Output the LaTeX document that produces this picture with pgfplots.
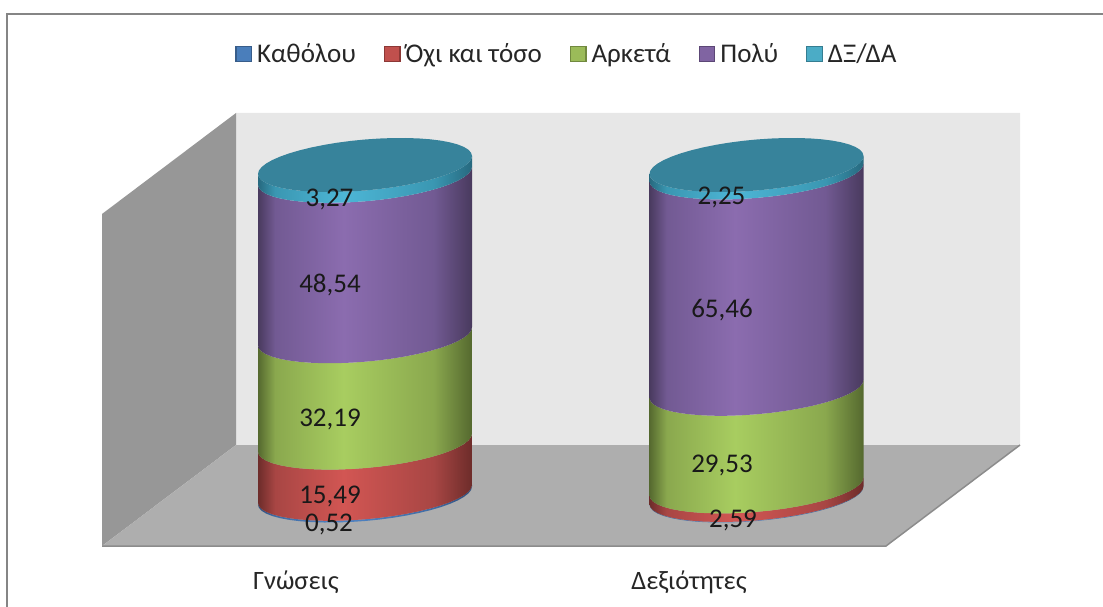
\documentclass[border=0pt]{standalone}
\usepackage{fontspec}
\setmainfont{Carlito}
\usepackage{pgfplots}
\usepackage{pgfplotstable}
\pgfplotsset{compat=1.18}
\tikzset{lab/.style={font=\fontsize{27}{29}\selectfont,text=black!90,inner sep=0pt,anchor=center}}
\definecolor{wallback}{HTML}{E7E7E7}
\definecolor{wallside}{HTML}{979797}
\definecolor{floorc}{HTML}{AEAEAE}
\definecolor{edgec}{HTML}{8C8C8C}
\definecolor{framec}{HTML}{858585}
\definecolor{lidc}{HTML}{37839B}
\definecolor{bluec}{HTML}{4A7EBB}
\definecolor{bluee}{HTML}{385D8A}
\definecolor{redc}{HTML}{C0504D}
\definecolor{rede}{HTML}{8C3836}
\definecolor{greenc}{HTML}{9BBB59}
\definecolor{greene}{HTML}{71893F}
\definecolor{purplec}{HTML}{8064A2}
\definecolor{purplee}{HTML}{5C4776}
\definecolor{tealc}{HTML}{4BACC6}
\definecolor{teale}{HTML}{357D91}
\newcommand\cylshade[4]{%
  \pgfdeclarehorizontalshading{#1}{100bp}{%
    color(0bp)=(#2);color(25bp)=(#2);color(29bp)=(#3);color(45bp)=(#4);color(66bp)=(#3);color(75bp)=(#2);color(100bp)=(#2)}}
\definecolor{a1}{HTML}{2F4F7D}\definecolor{a2}{HTML}{3F6CA5}\definecolor{a3}{HTML}{4F84C4}
\definecolor{b1}{HTML}{6D2C2A}\definecolor{b2}{HTML}{A84644}\definecolor{b3}{HTML}{D25653}
\definecolor{c1}{HTML}{55692F}\definecolor{c2}{HTML}{8AA84E}\definecolor{c3}{HTML}{A8CD60}
\definecolor{d1}{HTML}{493A5E}\definecolor{d2}{HTML}{725A93}\definecolor{d3}{HTML}{8B6CAF}
\definecolor{e1}{HTML}{27697F}\definecolor{e2}{HTML}{3A97B2}\definecolor{e3}{HTML}{4DB6D6}
\cylshade{cylblue}{a1}{a2}{a3}
\cylshade{cylred}{b1}{b2}{b3}
\cylshade{cylgreen}{c1}{c2}{c3}
\cylshade{cylpurple}{d1}{d2}{d3}
\cylshade{cylteal}{e1}{e2}{e3}
\pgfplotstableread{
dx dy w
107 -9 1
106.1 -5.59 1
103.4 -2.09 1
98.9 1.44 1
92.7 4.96 1
84.9 8.38 1
75.7 11.67 1
65.1 14.75 1
53.5 17.58 1
40.9 20.12 1
27.7 22.30 1
14.0 24.11 1
0 25.5 1
-14.0 26.45 1
-27.7 26.96 1
-40.9 27.00 1
-53.5 26.58 1
-65.1 25.71 1
-75.7 24.39 1
-84.9 22.66 1
-92.7 20.54 1
-98.9 18.08 1
-103.4 15.29 1
-106.1 12.25 1
-107 9 1
-107 9 0
-106.1 12.25 0
-103.4 15.29 0
-98.9 18.08 0
-92.7 20.54 0
-84.9 22.66 0
-75.7 24.39 0
-65.1 25.71 0
-53.5 26.58 0
-40.9 27.00 0
-27.7 26.96 0
-14.0 26.45 0
0 25.5 0
14.0 24.11 0
27.7 22.30 0
40.9 20.12 0
53.5 17.58 0
65.1 14.75 0
75.7 11.67 0
84.9 8.38 0
92.7 4.96 0
98.9 1.44 0
103.4 -2.09 0
106.1 -5.59 0
107 -9 0
}\segtab
\pgfplotstableread{
dx dy
107 -9
106.1 -5.59
103.4 -2.09
98.9 1.44
92.7 4.96
84.9 8.38
75.7 11.67
65.1 14.75
53.5 17.58
40.9 20.12
27.7 22.30
14.0 24.11
0 25.5
-14.0 26.45
-27.7 26.96
-40.9 27.00
-53.5 26.58
-65.1 25.71
-75.7 24.39
-84.9 22.66
-92.7 20.54
-98.9 18.08
-103.4 15.29
-106.1 12.25
-107 9
-106.1 5.59
-103.4 2.09
-98.9 -1.44
-92.7 -4.96
-84.9 -8.38
-75.7 -11.67
-65.1 -14.75
-53.5 -17.58
-40.9 -20.12
-27.7 -22.30
-14.0 -24.11
0 -25.5
14.0 -26.45
27.7 -26.96
40.9 -27.00
53.5 -26.58
65.1 -25.71
75.7 -24.39
84.9 -22.66
92.7 -20.54
98.9 -18.08
103.4 -15.29
106.1 -12.25
}\lidtab
\newcommand\seg[4]{%
  \addplot[draw=none,no markers,shade,shading=#4,forget plot] table[
    x expr=#1+\thisrow{dx},
    y expr=495.5-3.305*(\thisrow{w}*#2+(1-\thisrow{w})*#3)+\thisrow{dy}] {\segtab};}
\newcommand\lid[1]{%
  \addplot[draw=none,no markers,fill=lidc,forget plot] table[
    x expr=#1+\thisrow{dx},
    y expr=165+\thisrow{dy}] {\lidtab};}
\newcommand\legsq[2]{\addlegendimage{legend image code/.code={\draw[fill=#1,draw=#2,line width=1.2pt] (0pt,-7.5pt) rectangle (15.5pt,7.5pt);}}}
\begin{document}
\begin{tikzpicture}
\begin{axis}[
  scale only axis,
  width=1103pt,height=607pt,
  xmin=0,xmax=1103,ymin=0,ymax=607,
  y dir=reverse,
  axis line style={draw=none},
  tick style={draw=none},
  ytick=\empty,
  xtick={296,689},
  xticklabels={Γνώσεις,Δεξιότητες},
  xticklabel style={font=\fontsize{26.5}{28}\selectfont,text=black!85,anchor=center},
  xticklabel shift=-25pt,
  /pgf/number format/assume math mode=true,
  legend columns=-1,
  legend style={at={(axis cs:567,54)},anchor=center,draw=none,fill=none,
    font=\fontsize{27}{29}\selectfont,text=black!85,
    /tikz/every even column/.append style={column sep=26pt},
    inner sep=0pt},
]
% frame
\addplot[no markers,draw=framec,line width=2.5pt,forget plot] coordinates {(7,607) (7,14) (1103,14)};
% walls
\addplot[draw=none,fill=wallback,forget plot] coordinates {(236,113) (1020,113) (1020,445) (236,445) (236,113)};
\addplot[draw=none,fill=wallside,forget plot] coordinates {(102,214) (236,113) (236,445) (102,546) (102,214)};
\addplot[draw=none,fill=floorc,forget plot] coordinates {(102,546) (236,445) (1020,445) (886,546) (102,546)};
\addplot[no markers,draw=edgec,line width=1.5pt,forget plot] coordinates {(102,546) (886,546) (1020,445)};
% Γνώσεις
\seg{365}{0}{0.52}{cylblue}
\seg{365}{0.52}{16.01}{cylred}
\seg{365}{16.01}{48.20}{cylgreen}
\seg{365}{48.20}{96.74}{cylpurple}
\seg{365}{96.74}{100}{cylteal}
\lid{365}
% Δεξιότητες
\seg{756.5}{0}{0.17}{cylblue}
\seg{756.5}{0.17}{2.76}{cylred}
\seg{756.5}{2.76}{32.29}{cylgreen}
\seg{756.5}{32.29}{97.75}{cylpurple}
\seg{756.5}{97.75}{100}{cylteal}
\lid{756.5}
% labels
\node[lab] at (axis cs:329.5,199) {3,27};
\node[lab] at (axis cs:330,285) {48,54};
\node[lab] at (axis cs:330,419) {32,19};
\node[lab] at (axis cs:330,496) {15,49};
\node[lab] at (axis cs:329,524) {0,52};
\node[lab] at (axis cs:721.5,197) {2,25};
\node[lab] at (axis cs:722,310) {65,46};
\node[lab] at (axis cs:722,465) {29,53};
\node[lab] at (axis cs:733,520) {2,59};
\legsq{bluec}{bluee}\addlegendentry{\hspace{3pt}Καθόλου}
\legsq{redc}{rede}\addlegendentry{\hspace{3pt}Όχι και τόσο}
\legsq{greenc}{greene}\addlegendentry{\hspace{3pt}Αρκετά}
\legsq{purplec}{purplee}\addlegendentry{\hspace{3pt}Πολύ}
\legsq{tealc}{teale}\addlegendentry{\hspace{3pt}ΔΞ/ΔΑ}
\end{axis}
\end{tikzpicture}
\end{document}
